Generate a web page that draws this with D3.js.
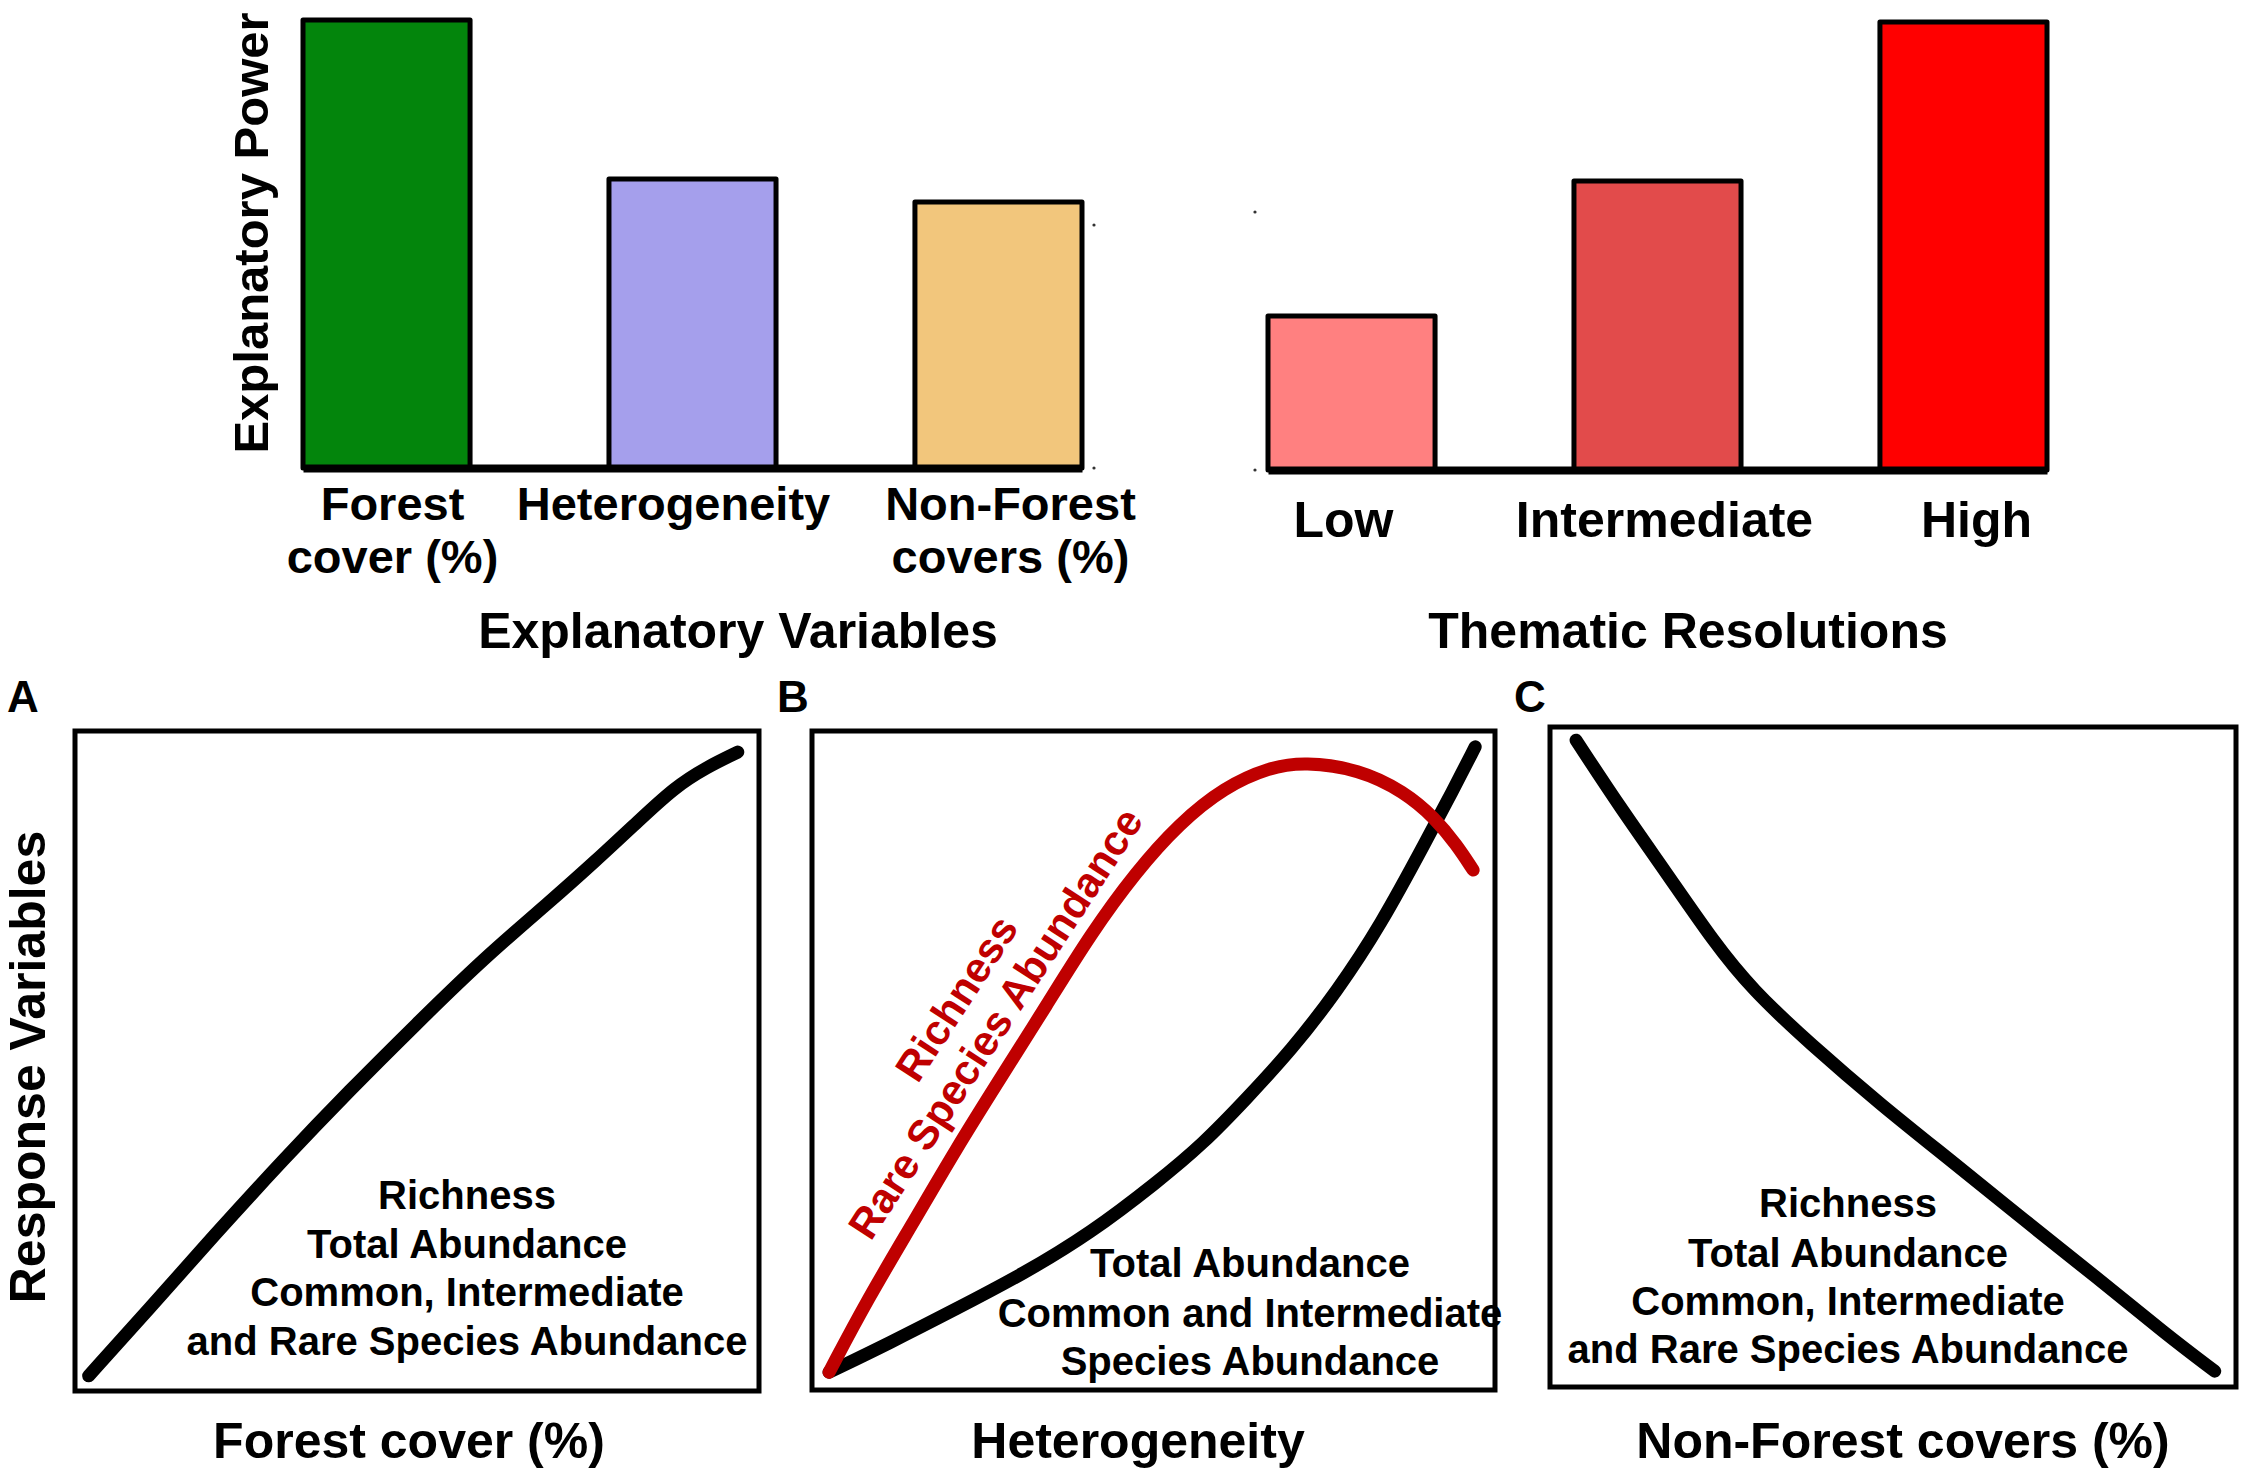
<!DOCTYPE html>
<html>
<head>
<meta charset="utf-8">
<script src="https://cdn.jsdelivr.net/npm/d3@7"></script>
<style>
  html, body { margin: 0; padding: 0; background: #ffffff; }
  svg { display: block; }
  text { font-family: "Liberation Sans", Arial, "Helvetica", sans-serif; font-weight: bold; fill: #000; }
</style>
</head>
<body>
<script>
// ---------------- DATA ----------------
const explanatoryCats = ["Forest cover (%)", "Heterogeneity", "Non-Forest covers (%)"];
const explanatoryLabelLines = [["Forest", "cover (%)"], ["Heterogeneity"], ["Non-Forest", "covers (%)"]];
const explanatoryPower = [100, 64.5, 59.4];

const thematicCats = ["Low", "Intermediate", "High"];
const thematicPower = [34.4, 64.5, 100];

// Response curves (x, y in 0-100 relative units of each panel)
const forestResponse = [[2.0,2.3],[10.8,12.4],[20.6,23.9],[30.4,35.0],[40.1,45.5],[49.9,55.6],[59.7,65.5],[69.5,74.2],[76.1,80.3],[82.5,86.5],[87.7,91.5],[92.3,94.5],[96.9,96.8]];
const heteroTotalResponse = [[2.5,2.7],[11.3,7.1],[21.1,12.3],[30.9,17.6],[40.8,23.8],[50.6,31.6],[57.2,37.3],[63.6,44.2],[70.2,51.6],[76.8,60.4],[83.3,70.6],[89.9,83.3],[93.8,90.9],[97.1,97.6]];
const heteroRichRareResponse = [[2.5,2.7],[8.1,13.7],[14.7,25.2],[21.1,36.6],[27.7,47.5],[34.3,58.3],[40.8,69.2],[47.4,78.6],[53.8,86.0],[60.4,91.5],[67.0,94.5],[72.1,95.3],[80.1,94.2],[86.7,90.8],[91.2,86.8],[94.4,82.7],[96.8,78.9]];
const nonForestResponse = [[3.8,98.0],[10.1,88.0],[17.1,77.7],[23.9,67.4],[29.4,60.3],[37.9,52.0],[48.3,42.7],[58.7,34.1],[69.1,25.3],[79.6,16.7],[89.9,7.9],[96.9,2.4]];

const panelAText = ["Richness", "Total Abundance", "Common, Intermediate", "and Rare Species Abundance"];
const panelBText = ["Total Abundance", "Common and Intermediate", "Species Abundance"];
const panelBRedText = ["Richness", "Rare Species Abundance"];
const panelCText = ["Richness", "Total Abundance", "Common, Intermediate", "and Rare Species Abundance"];
const panelXLabels = ["Forest cover (%)", "Heterogeneity", "Non-Forest covers (%)"];
const panelLetters = ["A", "B", "C"];

// ---------------- STYLE / LAYOUT ----------------
const explanatoryColors = ["#03850c", "#a59fec", "#f2c67c"];
const thematicColors = ["#ff8080", "#e24b4b", "#ff0000"];
const redLine = "#bf0000";
const W = 2247, H = 1480;

const svg = d3.select("body").append("svg").attr("width", W).attr("height", H);
svg.append("rect").attr("width", W).attr("height", H).attr("fill", "#fff");

// ---------- Bar charts ----------
function barChart(cats, vals, colors, x0, x1, base, top, labelLines, nudges, firstBaseline, lineGap, fontSize) {
  const x = d3.scaleBand().domain(cats).range([x0, x1]).paddingInner(0.454).paddingOuter(0);
  const y = d3.scaleLinear().domain([0, 100]).range([base, top]);
  const g = svg.append("g");
  g.selectAll("rect.bar").data(cats).join("rect")
    .attr("class", "bar")
    .attr("x", d => x(d))
    .attr("y", (d, i) => y(vals[i]))
    .attr("width", x.bandwidth())
    .attr("height", (d, i) => base - y(vals[i]))
    .attr("fill", (d, i) => colors[i])
    .attr("stroke", "#000").attr("stroke-width", 5).attr("stroke-linejoin", "round");
  const ax = g.append("g").attr("transform", `translate(0,${base})`)
    .call(d3.axisBottom(x).tickSize(0).tickFormat(""));
  ax.select(".domain").attr("stroke", "#000").attr("stroke-width", 8);
  cats.forEach((c, i) => {
    const cx = x(c) + x.bandwidth() / 2 + nudges[i];
    labelLines[i].forEach((ln, j) => {
      g.append("text").attr("x", cx).attr("y", firstBaseline + j * lineGap)
        .attr("text-anchor", "middle").attr("font-size", fontSize).text(ln);
    });
  });
  return g;
}

barChart(explanatoryCats, explanatoryPower, explanatoryColors, 303, 1082, 468, 20,
  explanatoryLabelLines, [6, -19, 12], 520, 53, 47);
barChart(thematicCats, thematicPower, thematicColors, 1268, 2047, 470, 22,
  thematicCats.map(d => [d]), [-8, 7, 13], 537, 53, 50);

// tiny artifact dots
[[1094,225],[1094,468],[1255,212],[1255,470]].forEach(p => {
  svg.append("circle").attr("cx", p[0]).attr("cy", p[1]).attr("r", 1.6).attr("fill", "#333");
});

svg.append("text").attr("transform", "translate(268,233) rotate(-90)")
  .attr("text-anchor", "middle").attr("font-size", 49).text("Explanatory Power");
svg.append("text").attr("x", 738).attr("y", 648).attr("text-anchor", "middle")
  .attr("font-size", 50).text("Explanatory Variables");
svg.append("text").attr("x", 1688).attr("y", 648).attr("text-anchor", "middle")
  .attr("font-size", 50).text("Thematic Resolutions");

// ---------- Response panels ----------
const panels = [
  {x0: 75, x1: 759, y0: 731, y1: 1391, letterX: 7, label: panelXLabels[0], labelX: 409},
  {x0: 812, x1: 1495, y0: 731, y1: 1390, letterX: 777, label: panelXLabels[1], labelX: 1138},
  {x0: 1550, x1: 2236, y0: 727, y1: 1387, letterX: 1514, label: panelXLabels[2], labelX: 1903}
];

panels.forEach((p, i) => {
  p.x = d3.scaleLinear().domain([0, 100]).range([p.x0, p.x1]);
  p.y = d3.scaleLinear().domain([0, 100]).range([p.y1, p.y0]);
  svg.append("rect").attr("x", p.x0).attr("y", p.y0)
    .attr("width", p.x1 - p.x0).attr("height", p.y1 - p.y0)
    .attr("fill", "none").attr("stroke", "#000").attr("stroke-width", 5);
  svg.append("text").attr("x", p.letterX).attr("y", 712).attr("font-size", 44).text(panelLetters[i]);
  svg.append("text").attr("x", p.labelX).attr("y", 1458).attr("text-anchor", "middle")
    .attr("font-size", 50).text(p.label);
});

function drawCurve(p, data, color) {
  const line = d3.line().x(d => p.x(d[0])).y(d => p.y(d[1])).curve(d3.curveBasis);
  svg.append("path").datum(data).attr("d", line)
    .attr("fill", "none").attr("stroke", color).attr("stroke-width", 13)
    .attr("stroke-linecap", "round").attr("stroke-linejoin", "round");
}

drawCurve(panels[0], forestResponse, "#000");
drawCurve(panels[1], heteroTotalResponse, "#000");
drawCurve(panels[1], heteroRichRareResponse, redLine);
drawCurve(panels[2], nonForestResponse, "#000");

function textBlock(lines, cx, baselines) {
  lines.forEach((ln, j) => {
    svg.append("text").attr("x", cx).attr("y", baselines[j]).attr("text-anchor", "middle")
      .attr("font-size", 40).text(ln);
  });
}
textBlock(panelAText, 467, [1209, 1258, 1306, 1355]);
textBlock(panelBText, 1250, [1277, 1327, 1375]);
textBlock(panelCText, 1848, [1217, 1267, 1315, 1363]);

// rotated red labels
[[956, 998], [995, 1023]].forEach((c, j) => {
  svg.append("text").attr("transform", `translate(${c[0]},${c[1]}) rotate(-57)`)
    .attr("text-anchor", "middle").attr("dy", "0.36em")
    .attr("font-size", 42).style("fill", redLine).text(panelBRedText[j]);
});

svg.append("text").attr("transform", "translate(45,1067) rotate(-90)")
  .attr("text-anchor", "middle").attr("font-size", 50).text("Response Variables");
</script>
</body>
</html>
